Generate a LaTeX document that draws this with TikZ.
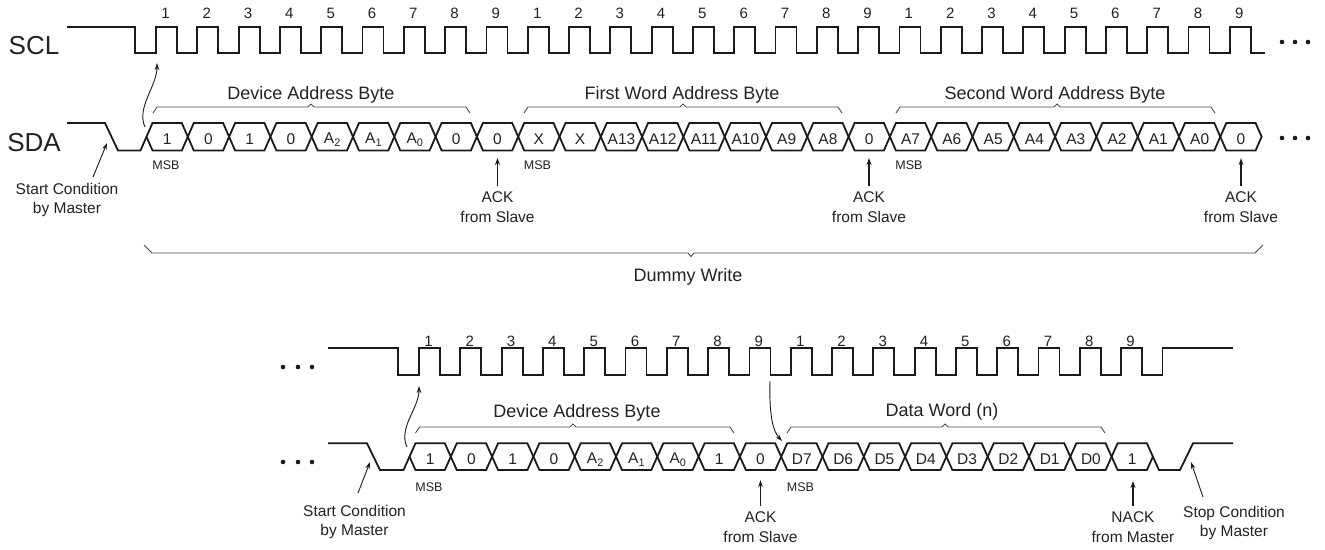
\documentclass[tikz,border=0pt]{standalone}
\usepackage{fontspec}
\setmainfont{Liberation Sans}
\usetikzlibrary{arrows.meta}
\definecolor{sigc}{HTML}{1A1A1A}
\definecolor{brcc}{HTML}{4A4A4A}
\definecolor{txtc}{HTML}{222222}
\newcommand\mybrace[4]{% x1, xmid, x2, y
  \draw[brc] (#1,#4+6) -- (#1+4,#4) -- (#2-3,#4) -- (#2,#4-3) -- (#2+3,#4) -- (#3-4,#4) -- (#3,#4+6);}
\begin{document}
\begin{tikzpicture}[x=1pt,y=-1pt,
  sig/.style={line width=1.8pt, draw=sigc, line join=miter},
  brc/.style={line width=0.9pt, draw=brcc},
  lbl/.style={font=\fontsize{15.5}{19.5}\selectfont, align=center, text=txtc, inner sep=0pt},
  celltxt/.style={font=\fontsize{15.5}{18}\selectfont, text=txtc, inner sep=0pt},
  numtxt/.style={font=\fontsize{15}{17}\selectfont, text=txtc, inner sep=0pt},
  msbtxt/.style={font=\fontsize{12.5}{15}\selectfont, text=txtc, inner sep=0pt},
  ttl/.style={font=\fontsize{18}{21}\selectfont, text=txtc, inner sep=0pt},
  sigl/.style={font=\fontsize{26}{30}\selectfont, text=txtc, inner sep=0pt},
  thickarr/.style={line width=1.9pt, draw=sigc, -{Stealth[length=7pt,width=5pt]}},
  thinarr/.style={line width=0.9pt, draw=sigc, -{Stealth[length=7pt,width=4.5pt]}},
  dotc/.style={fill=sigc}]
\useasboundingbox (0,0) rectangle (1325,549);

% ---------------- TOP: labels ----------------
\node[sigl] (sclL) at (34,46) {SCL};
\node[sigl] (sdaL) at (34,143) {SDA};

% SCL top
\draw[sig] (67,27) -- (135,27) -- (135,53)
  \foreach \j in {0,...,26}{ -- ({156+41.3*\j},53) -- ({156+41.3*\j},27) -- ({177+41.3*\j},27) -- ({177+41.3*\j},53)}
  -- (1265,53);
\foreach \j in {0,...,26}{
  \pgfmathtruncatemacro\n{mod(\j,9)+1}
  \node[numtxt] (tn\j) at ({165.5+41.3*\j},13) {\n};
}
\foreach \x in {1282,1295,1308} \fill[dotc] (\x,42) circle (2.3pt);

% SDA top
\draw[sig] (67,123) -- (105,123) -- (118,150.5) -- (140.5,150.5) -- (146.5,136.75);
\foreach \t [count=\i from 0] in {1,0,1,0,{A\textsubscript{2}},{A\textsubscript{1}},{A\textsubscript{0}},0,0,X,X,A13,A12,A11,A10,A9,A8,0,A7,A6,A5,A4,A3,A2,A1,A0,0}{
  \pgfmathsetmacro\xa{146.5+41.3*\i}
  \pgfmathsetmacro\xb{\xa+41.3}
  \draw[sig] (\xa,136.75) -- (\xa+6,123) -- (\xb-6,123) -- (\xb,136.75) -- (\xb-6,150.5) -- (\xa+6,150.5) -- cycle;
  \node[celltxt] (tc\i) at (\xa+20.65,139.5) {\t};
}
\foreach \x in {1282,1295,1308} \fill[dotc] (\x,138) circle (2.3pt);

% braces top
\mybrace{153}{311}{470}{107}
\node[ttl] (tdab) at (311,95) {Device Address Byte};
\mybrace{524}{683}{842}{107}
\node[ttl] (tfwab) at (682,95) {First Word Address Byte};
\mybrace{896}{1057}{1215}{107}
\node[ttl] (tswab) at (1055,95) {Second Word Address Byte};

% MSB top
\node[msbtxt] (tm1) at (166,165) {MSB};
\node[msbtxt] (tm2) at (537.5,165) {MSB};
\node[msbtxt] (tm3) at (909,165) {MSB};

% start condition top
\node[lbl] (tstart) at (67,200) {Start Condition\\by Master};
\coordinate (tsa) at (93,177);
\coordinate (tsb) at (107,143);
\draw[thinarr] (tsa) -- (tsb);
\coordinate (tca) at (145,127);
\coordinate (tcb) at (157,63);
\draw[thinarr] (tca) .. controls (136,108) and (157,86) .. (tcb);

% ACK top
\node[lbl] (tack1) at (497.5,207) {ACK\\from Slave};
\node[lbl] (tack2) at (869,207) {ACK\\from Slave};
\node[lbl] (tack3) at (1241,207) {ACK\\from Slave};
\coordinate (tk1) at (497.5,158);
\coordinate (tk2) at (869,158);
\coordinate (tk3) at (1241,158);
\draw[thickarr] ([yshift=6pt]tack1.north) -- (tk1);
\draw[thickarr] ([yshift=6pt]tack2.north) -- (tk2);
\draw[thinarr, line width=1.2pt] ([yshift=6pt]tack3.north) -- (tk3);

% Dummy write brace
\draw[brc] (144,245) -- (152,253) -- (688,253) -- (691,256.5) -- (694,253) -- (1255,253) -- (1263,245);
\node[ttl] (dummy) at (688,277) {Dummy Write};

% ---------------- BOTTOM ----------------
\foreach \x in {283,298,312} \fill[dotc] (\x,367) circle (2.3pt);
\foreach \x in {283,298,312} \fill[dotc] (\x,462) circle (2.3pt);

% SCL bottom
\draw[sig] (328,348) -- (398,348) -- (398,375)
  \foreach \j in {0,...,17}{ -- ({419+41.3*\j},375) -- ({419+41.3*\j},348) -- ({440+41.3*\j},348) -- ({440+41.3*\j},375)}
  -- (1162.4,375) -- (1162.4,348) -- (1233,348);
\foreach \j in {0,...,17}{
  \pgfmathtruncatemacro\n{mod(\j,9)+1}
  \node[numtxt] (bn\j) at ({428.5+41.3*\j},341) {\n};
}

% SDA bottom
\draw[sig] (328,443.3) -- (367,443.3) -- (380,470) -- (403.5,470) -- (409.5,456.65);
\foreach \t [count=\i from 0] in {1,0,1,0,{A\textsubscript{2}},{A\textsubscript{1}},{A\textsubscript{0}},1,0,D7,D6,D5,D4,D3,D2,D1,D0}{
  \pgfmathsetmacro\xa{409.5+41.3*\i}
  \pgfmathsetmacro\xb{\xa+41.3}
  \draw[sig] (\xa,456.65) -- (\xa+6,443.3) -- (\xb-6,443.3) -- (\xb,456.65) -- (\xb-6,470) -- (\xa+6,470) -- cycle;
  \node[celltxt] (bc\i) at (\xa+20.65,459.5) {\t};
}
% last cell (NACK) and stop condition
\draw[sig] (1111.6,456.65) -- (1117.6,443.3) -- (1146.9,443.3) -- (1158.9,470) -- (1180,470) -- (1193,443.3) -- (1233,443.3);
\draw[sig] (1111.6,456.65) -- (1117.6,470) -- (1146.9,470) -- (1152.9,456.65);
\node[celltxt] (bc17) at (1132.25,459.5) {1};

% braces bottom
\mybrace{415.5}{573}{734}{427}
\node[ttl] (bdab) at (577,413) {Device Address Byte};
\mybrace{787}{945}{1105}{427}
\node[ttl] (bdw) at (942,412) {Data Word (n)};

% MSB bottom
\node[msbtxt] (bm1) at (429,487) {MSB};
\node[msbtxt] (bm2) at (800.5,487) {MSB};

% start condition bottom
\node[lbl] (bstart) at (354.5,522) {Start Condition\\by Master};
\coordinate (bsa) at (358,493);
\coordinate (bsb) at (370,462);
\draw[thinarr] (bsa) -- (bsb);
\coordinate (bca) at (407,447);
\coordinate (bcb) at (419,386);
\draw[thinarr] (bca) .. controls (398,428) and (419,408) .. (bcb);

% SCL 9 -> D7
\coordinate (b9a) at (770,381);
\coordinate (b9b) at (782,441);
\draw[thinarr] (b9a) .. controls (769,416) and (773,431) .. (b9b);

% ACK / NACK bottom
\node[lbl] (back) at (760.5,527) {ACK\\from Slave};
\coordinate (bk1) at (760.5,480);
\draw[thinarr, line width=1.1pt] ([yshift=6pt]back.north) -- (bk1);
\node[lbl] (bnack) at (1133,527) {NACK\\from Master};
\coordinate (bk2) at (1133,481);
\draw[thickarr] ([yshift=6pt]bnack.north) -- (bk2);

% stop condition
\node[lbl] (bstop) at (1234,523) {Stop Condition\\by Master};
\coordinate (bpa) at (1203,497);
\coordinate (bpb) at (1191,462);
\draw[thinarr] (bpa) -- (bpb);
\end{tikzpicture}
\end{document}
